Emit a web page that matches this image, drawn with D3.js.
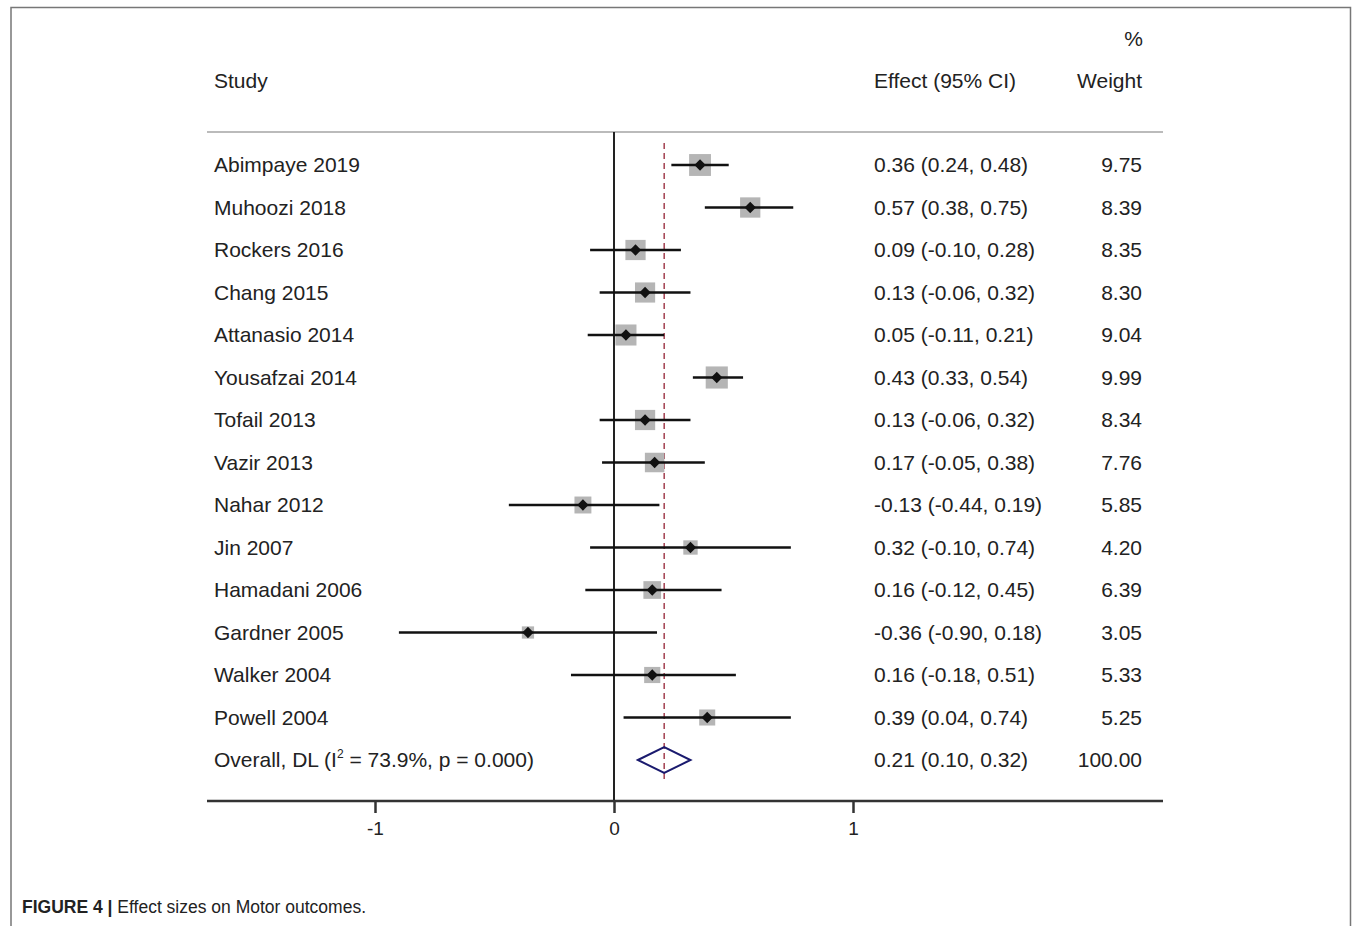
<!DOCTYPE html>
<html lang="en">
<head>
<meta charset="UTF-8">
<title>Forest plot</title>
<script src="https://d3js.org/d3.v7.min.js"></script>
<style>
  * { margin: 0; padding: 0; }
  body { background: #fff; font-family: "Liberation Sans", Arial, sans-serif; }
</style>
</head>
<body>
<svg id="chart" width="1357" height="926"></svg>
<script>
// study data
const studies = ["Abimpaye 2019", "Muhoozi 2018", "Rockers 2016", "Chang 2015", "Attanasio 2014",
  "Yousafzai 2014", "Tofail 2013", "Vazir 2013", "Nahar 2012", "Jin 2007", "Hamadani 2006",
  "Gardner 2005", "Walker 2004", "Powell 2004"];
const effects = [0.36, 0.57, 0.09, 0.13, 0.05, 0.43, 0.13, 0.17, -0.13, 0.32, 0.16, -0.36, 0.16, 0.39];
const lower   = [0.24, 0.38, -0.10, -0.06, -0.11, 0.33, -0.06, -0.05, -0.44, -0.10, -0.12, -0.90, -0.18, 0.04];
const upper   = [0.48, 0.75, 0.28, 0.32, 0.21, 0.54, 0.32, 0.38, 0.19, 0.74, 0.45, 0.18, 0.51, 0.74];
const weights = [9.75, 8.39, 8.35, 8.30, 9.04, 9.99, 8.34, 7.76, 5.85, 4.20, 6.39, 3.05, 5.33, 5.25];
const overall = {effect: 0.21, lower: 0.10, upper: 0.32, weight: 100.00};
const xTicks = [-1, 0, 1];

const svg = d3.select("#chart");
// plain hyphen for negatives, as in the source figure
const fmt = v => d3.format(".2f")(v).replace("\u2212", "-");
const fs = "21px";

// frame (open at bottom) + caption
svg.append("path").attr("d", "M11,930 V7.5 H1350.5 V930")
  .attr("fill", "none").attr("stroke", "#777").attr("stroke-width", 1.5);
const cap = svg.append("text").attr("x", 22).attr("y", 913).attr("font-size", "17.5px").attr("fill", "#222");
cap.append("tspan").attr("font-weight", "bold").text("FIGURE 4 | ");
cap.append("tspan").text("Effect sizes on Motor outcomes.");

const x = d3.scaleLinear().domain([-1, 1]).range([375, 853]);
const rows = studies.concat(["overall"]);
const y = d3.scalePoint().domain(d3.range(rows.length)).range([165, 760]);

const plotLeft = 207, plotRight = 1163, plotTop = 132, plotBottom = 801;

// headers
svg.append("text").attr("x", 214).attr("y", 88).attr("font-size", fs).attr("fill", "#222").text("Study");
svg.append("text").attr("x", 874).attr("y", 88).attr("font-size", fs).attr("fill", "#222").text("Effect (95% CI)");
svg.append("text").attr("x", 1142).attr("y", 88).attr("font-size", fs).attr("text-anchor", "end").attr("fill", "#222").text("Weight");
svg.append("text").attr("x", 1143).attr("y", 46).attr("font-size", fs).attr("text-anchor", "end").attr("fill", "#222").text("%");

svg.append("line").attr("x1", plotLeft).attr("x2", plotRight).attr("y1", plotTop).attr("y2", plotTop)
  .attr("stroke", "#bbb").attr("stroke-width", 2);

// zero line and overall dashed line
svg.append("line").attr("x1", x(0)).attr("x2", x(0)).attr("y1", plotTop).attr("y2", plotBottom)
  .attr("stroke", "#222").attr("stroke-width", 2);
svg.append("line").attr("x1", x(overall.effect)).attr("x2", x(overall.effect)).attr("y1", 143).attr("y2", 780)
  .attr("stroke", "#a34050").attr("stroke-width", 1.5).attr("stroke-dasharray", "6,4");

// study rows
const g = svg.append("g");
studies.forEach((s, i) => {
  const cy = y(i);
  const side = 7 * Math.sqrt(weights[i]);
  g.append("rect").attr("x", x(effects[i]) - side / 2).attr("y", cy - side / 2)
    .attr("width", side).attr("height", side).attr("fill", "#b5b5b5");
  g.append("line").attr("x1", x(lower[i])).attr("x2", x(upper[i])).attr("y1", cy).attr("y2", cy)
    .attr("stroke", "#111").attr("stroke-width", 2.5);
  g.append("path").attr("d", d3.symbol(d3.symbolSquare, 64)())
    .attr("transform", `translate(${x(effects[i])},${cy}) rotate(45)`).attr("fill", "#111");
  g.append("text").attr("x", 214).attr("y", cy + 7).attr("font-size", fs).attr("fill", "#222").text(s);
  g.append("text").attr("x", 874).attr("y", cy + 7).attr("font-size", fs).attr("fill", "#222")
    .text(`${fmt(effects[i])} (${fmt(lower[i])}, ${fmt(upper[i])})`);
  g.append("text").attr("x", 1142).attr("y", cy + 7).attr("font-size", fs).attr("text-anchor", "end")
    .attr("fill", "#222").text(fmt(weights[i]));
});

// overall row
const oy = y(rows.length - 1);
g.append("path")
  .attr("d", `M${x(overall.lower)},${oy} L${x(overall.effect)},${oy - 13} L${x(overall.upper)},${oy} L${x(overall.effect)},${oy + 13} Z`)
  .attr("fill", "none").attr("stroke", "#1a1a6e").attr("stroke-width", 2);
const ot = g.append("text").attr("x", 214).attr("y", oy + 7).attr("font-size", fs).attr("fill", "#222");
ot.append("tspan").text("Overall, DL (I");
ot.append("tspan").attr("font-size", "12px").attr("dy", -9).text("2");
ot.append("tspan").attr("dy", 9).text(" = 73.9%, p = 0.000)");
g.append("text").attr("x", 874).attr("y", oy + 7).attr("font-size", fs).attr("fill", "#222")
  .text(`${fmt(overall.effect)} (${fmt(overall.lower)}, ${fmt(overall.upper)})`);
g.append("text").attr("x", 1142).attr("y", oy + 7).attr("font-size", fs).attr("text-anchor", "end")
  .attr("fill", "#222").text(fmt(overall.weight));

// bottom axis
svg.append("line").attr("x1", plotLeft).attr("x2", plotRight).attr("y1", plotBottom).attr("y2", plotBottom)
  .attr("stroke", "#333").attr("stroke-width", 2.5);
const ax = svg.append("g").attr("transform", `translate(0,${plotBottom})`)
  .call(d3.axisBottom(x).tickValues(xTicks).tickFormat(d => fmt(d).replace(".00", "")).tickSize(12).tickPadding(9));
ax.select(".domain").remove();
ax.selectAll("line").attr("stroke", "#333").attr("stroke-width", 2.5);
ax.selectAll("text").attr("font-size", "19px").attr("fill", "#222")
  .attr("font-family", "'Liberation Sans', Arial, sans-serif");
</script>
</body>
</html>
